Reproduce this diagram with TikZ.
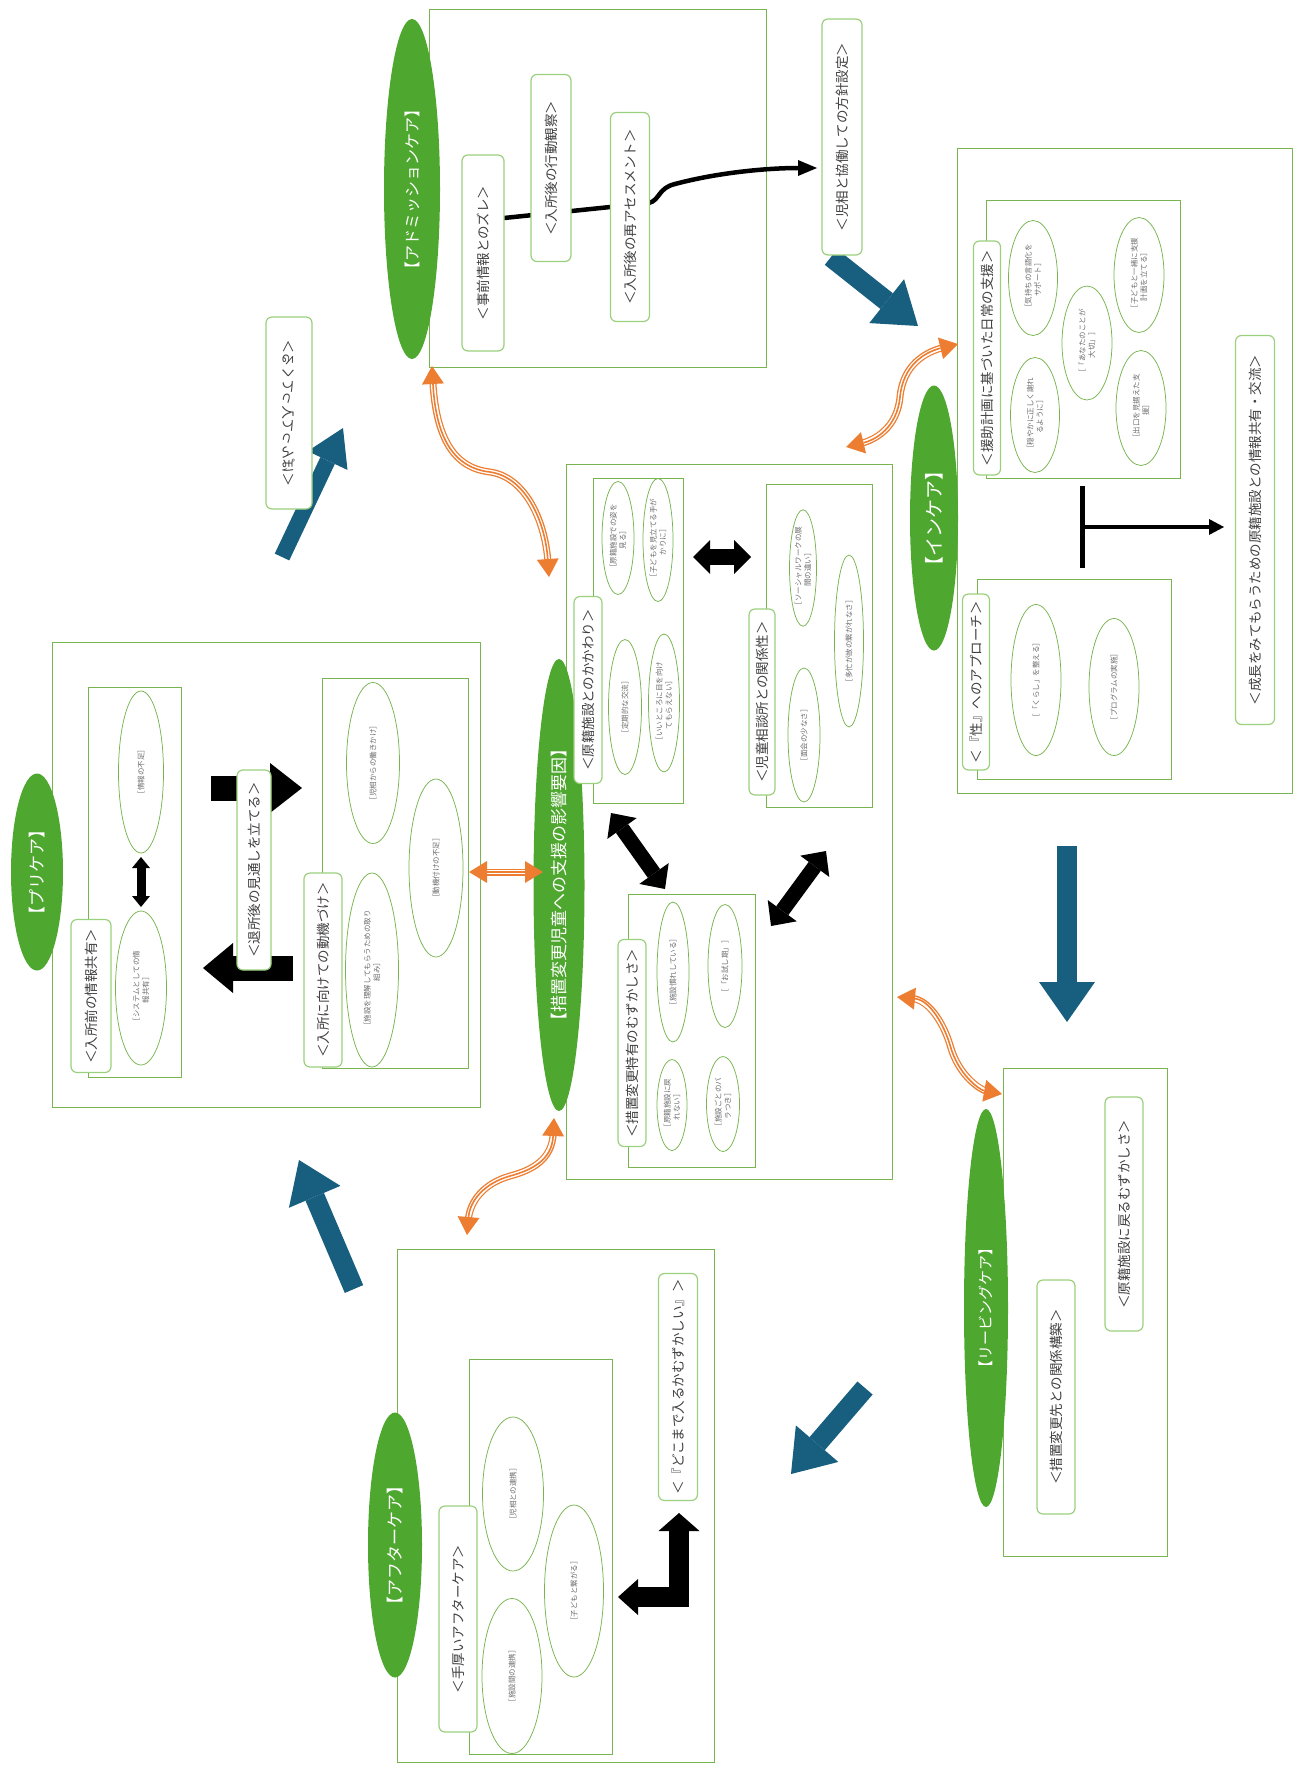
\documentclass[tikz,border=0pt]{standalone}
\usepackage{fontspec}
\setmainfont{Noto Sans CJK JP}
\usepackage{graphicx}
\usetikzlibrary{arrows.meta,shapes.geometric}

\definecolor{grn}{RGB}{78,167,46}
\definecolor{frm}{RGB}{120,180,80}
\definecolor{lblg}{RGB}{155,208,125}
\definecolor{blu}{RGB}{23,94,127}
\definecolor{orng}{RGB}{237,125,49}
\definecolor{txt}{RGB}{64,64,64}
\definecolor{stxt}{RGB}{110,110,110}

% label box: #1 name, #2 centre, #3 width, #4 height, #5 text
\newcommand\mktag[5]{\node[tag,minimum width=#4pt,minimum height=#3pt] (#1) at (#2) {#5};}
% small ellipse: #1 name, #2 centre, #3 width, #4 height, #5 text
\newcommand\mkitem[5]{\node[item,minimum width=#4pt,minimum height=#3pt] (#1) at (#2) {#5};}

\begin{document}
\begin{tikzpicture}[x=1pt,y=-1pt,
  frame/.style={draw=frm,line width=0.8pt,rectangle,inner sep=0pt,outer sep=0pt},
  phase/.style={ellipse,fill=grn,draw=none,rotate=90,text=white,inner sep=0pt,
    font=\fontsize{17}{20}\selectfont},
  item/.style={ellipse,draw=frm,line width=0.75pt,fill=white,rotate=90,text=stxt,
    inner sep=0pt,align=center,font=\fontsize{7.5}{9.5}\selectfont},
  tag/.style={draw=lblg,line width=1.2pt,rounded corners=6pt,fill=white,rotate=90,
    text=txt,inner sep=0pt,font=\fontsize{13.5}{16}\selectfont},
  flow/.style={draw=blu,line width=20pt,
    -{Triangle[length=40pt,width=56pt,line width=0pt]}},
  link/.style={draw=orng,line width=1.6pt,
    {Triangle[length=18pt,width=22pt,line width=0pt]}-{Triangle[length=18pt,width=22pt,line width=0pt]},
    preaction={draw=orng,line width=7pt,arrows=-,shorten <=15pt,shorten >=15pt},
    preaction={draw=white,line width=4.4pt,arrows=-,shorten <=14pt,shorten >=14pt}},
  fat/.style={draw=black,line width=#1},
]
\useasboundingbox (0,0) rectangle (1299,1780);

% ---- outer frames
\node[frame,minimum width=337pt,minimum height=358pt] (admbox) at (597.5,188) {};
\node[frame,minimum width=335pt,minimum height=645pt] (incbox) at (1124.5,470.5) {};
\node[frame,minimum width=326pt,minimum height=715pt] (ctrbox) at (729,821.5) {};
\node[frame,minimum width=428pt,minimum height=465pt] (prebox) at (266,874.5) {};
\node[frame,minimum width=317pt,minimum height=513pt] (aftbox) at (555.5,1505.5) {};
\node[frame,minimum width=164pt,minimum height=488pt] (levbox) at (1085,1312) {};

% ---- inner frames
\node[frame,minimum width=194pt,minimum height=278pt] (dailybox) at (1083,339) {};
\node[frame,minimum width=194pt,minimum height=200pt] (sexbox) at (1074,679) {};
\node[frame,minimum width=90pt,minimum height=325pt] (origbox) at (638,640.5) {};
\node[frame,minimum width=106pt,minimum height=323pt] (jsbox) at (819,645.5) {};
\node[frame,minimum width=127pt,minimum height=273pt] (chgbox) at (691.5,1030.5) {};
\node[frame,minimum width=93pt,minimum height=390pt] (infobox) at (134.5,882) {};
\node[frame,minimum width=146pt,minimum height=390pt] (motivbox) at (395,873) {};
\node[frame,minimum width=143pt,minimum height=395pt] (carebox) at (540.5,1556.5) {};

% ---- phase ellipses
\node[phase,minimum width=340pt,minimum height=56pt,font=\fontsize{16}{19}\selectfont] (admission) at (412,189) {【アドミッションケア】};
\node[phase,minimum width=265pt,minimum height=48pt,font=\fontsize{19}{22}\selectfont] (incare) at (934,518) {【インケア】};
\node[phase,minimum width=452pt,minimum height=51pt] (factors) at (559,885) {【措置変更児童への支援の影響要因】};
\node[phase,minimum width=197pt,minimum height=52pt] (precare) at (37,872) {【プリケア】};
\node[phase,minimum width=265pt,minimum height=54pt] (aftercare) at (395,1545) {【アフターケア】};
\node[phase,minimum width=398pt,minimum height=44pt,font=\fontsize{15}{18}\selectfont] (leaving) at (986,1308) {【リービングケア】};

% ---- small ellipses: in-care
\mkitem{i1}{1033,278}{49}{115}{［気持ちの言語化を\\サポート］}
\mkitem{i2}{1087,343}{50}{114}{［「あなたのことが\\大切」］}
\mkitem{i3}{1139,275}{50}{115}{［子どもと一緒に支援\\計画を立てる］}
\mkitem{i4}{1035,415}{49}{115}{［穏やかに正しく謝れ\\るように］}
\mkitem{i5}{1141,408}{50}{115}{［出口を見据えた支\\援］}
\mkitem{i6}{1036,680}{50}{151}{［「くらし」を整える］}
\mkitem{i7}{1114,687}{50}{137}{［プログラムの実施］}
% ---- small ellipses: factors
\begin{scope}[every node/.append style={font=\fontsize{7}{8.5}\selectfont}]
\mkitem{f1}{618,538}{32}{113}{［原籍施設での姿を\\見る］}
\mkitem{f2}{658,540}{30}{123}{［子どもを見立てる手が\\かりに］}
\mkitem{f3}{625,707}{33}{135}{［定期的な交流］}
\mkitem{f4}{664,703}{31}{138}{［いいところに目を向け\\てもらえない］}
\mkitem{f5}{803,568}{27}{111}{［ソーシャルワークの展\\開の違い］}
\mkitem{f6}{804,735}{32}{134}{［面会の少なさ］}
\mkitem{f7}{849,641}{29}{172}{［多忙が故の繋がれなさ］}
\mkitem{f8}{673,972}{32}{140}{［施設慣れしている］}
\mkitem{f9}{725,966}{34}{123}{［「お試し期」］}
\mkitem{f10}{672,1105}{30}{91}{［原籍施設に戻\\れない］}
\mkitem{f11}{723,1104}{33}{95}{［施設ごとのバ\\ラつき］}
\end{scope}
% ---- small ellipses: pre-care
\begin{scope}[every node/.append style={font=\fontsize{9}{11}\selectfont}]
\mkitem{p1}{141,772}{45}{162}{［情報の不足］}
\mkitem{p2}{141,988}{51}{154}{［システムとしての情\\報共有］}
\end{scope}
\mkitem{p3}{373,763}{53}{161}{［児相からの働きかけ］}
\mkitem{p4}{372,970}{53}{194}{［施設を理解してもらうための取り\\組み］}
\mkitem{p5}{436,868}{54}{178}{［動機付けの不足］}
% ---- small ellipses: after-care
\begin{scope}[every node/.append style={font=\fontsize{8}{10}\selectfont}]
\mkitem{c1}{513,1494}{61}{154}{［児相との連携］}
\mkitem{c2}{574,1591}{59}{172}{［子どもと繋がる］}
\mkitem{c3}{512,1676}{60}{155}{［施設間の連携］}
\end{scope}

% ---- connector end points
\coordinate (b1s) at (831,257);  \coordinate (b1e) at (918,326);
\coordinate (b2s) at (1067,846); \coordinate (b2e) at (1067,1022);
\coordinate (b3s) at (865,1388); \coordinate (b3e) at (791,1474);
\coordinate (b4s) at (354,1289); \coordinate (b4e) at (299,1160);
\coordinate (b5s) at (282,557);  \coordinate (b5e) at (343,428);

\coordinate (o1s) at (432,366);  \coordinate (o1e) at (549,577);
\coordinate (o2s) at (958,344);  \coordinate (o2e) at (846,447);
\coordinate (o3s) at (469,872);  \coordinate (o3e) at (543,872);
\coordinate (o4s) at (897,997);  \coordinate (o4e) at (1002,1094);
\coordinate (o5s) at (554,1118); \coordinate (o5e) at (467,1235);

\coordinate (k1s) at (693,557);  \coordinate (k1e) at (751,557);
\coordinate (k2s) at (611,813);  \coordinate (k2e) at (665,889);
\coordinate (k3s) at (826,851);  \coordinate (k3e) at (771,926);
\coordinate (k4s) at (141,857);  \coordinate (k4e) at (141,907);
\coordinate (r1s) at (211,788);  \coordinate (r1e) at (302,788);
\coordinate (r2s) at (293,968);  \coordinate (r2e) at (203,968);
\coordinate (e1s) at (679,1513); \coordinate (e1c) at (679,1597); \coordinate (e1e) at (618,1597);
\coordinate (t1) at (1082,486);  \coordinate (t2) at (1082,568);
\coordinate (tm) at (1082,527);  \coordinate (te) at (1224,527);
\coordinate (a0) at (504,218);   \coordinate (a1) at (817,168);

% ---- flow arrows between phases
\draw[flow] (b1s) -- (b1e);
\draw[flow] (b2s) -- (b2e);
\draw[flow] (b3s) -- (b3e);
\draw[flow] (b4s) -- (b4e);
\draw[flow,line width=16pt,-{Triangle[length=36pt,width=44pt,line width=0pt]}] (b5s) -- (b5e);

% ---- links to the central factors
\draw[link] (o1s) .. controls (436,440) and (455,468) .. (490,472)
            .. controls (525,477) and (545,520) .. (o1e);
\draw[link] (o2s) .. controls (925,352) and (903,365) .. (900,397)
            .. controls (897,428) and (875,440) .. (o2e);
\draw[link] (o3s) -- (o3e);
\draw[link] (o4s) .. controls (930,1000) and (944,1025) .. (950,1045)
            .. controls (958,1075) and (980,1090) .. (o4e);
\draw[link] (o5s) .. controls (552,1160) and (532,1170) .. (510,1176)
            .. controls (485,1183) and (470,1200) .. (o5e);

% ---- black arrows
\draw[fat=16pt,{Triangle[length=17pt,width=34pt,line width=0pt]}-{Triangle[length=17pt,width=34pt,line width=0pt]}] (k1s) -- (k1e);
\draw[fat=15pt,{Triangle[length=19pt,width=36pt,line width=0pt]}-{Triangle[length=19pt,width=36pt,line width=0pt]}] (k2s) -- (k2e);
\draw[fat=15pt,{Triangle[length=19pt,width=36pt,line width=0pt]}-{Triangle[length=19pt,width=36pt,line width=0pt]}] (k3s) -- (k3e);
\draw[fat=9pt,{Triangle[length=11pt,width=18pt,line width=0pt]}-{Triangle[length=11pt,width=18pt,line width=0pt]}] (k4s) -- (k4e);
\draw[fat=25pt,-{Triangle[length=32pt,width=50pt,line width=0pt]}] (r1s) -- (r1e);
\draw[fat=25pt,-{Triangle[length=30pt,width=50pt,line width=0pt]}] (r2s) -- (r2e);
\draw[fat=20pt,line join=miter,{Triangle[length=18pt,width=41pt,line width=0pt]}-{Triangle[length=20pt,width=36pt,line width=0pt]}] (e1s) -- (e1c) -- (e1e);
\draw[fat=5pt] (t1) -- (t2);
\draw[fat=4.5pt,-{Triangle[length=15pt,width=16pt,line width=0pt]}] (tm) -- (te);
\draw[fat=4.5pt,-{Triangle[length=19pt,width=16pt,line width=0pt]}]
  (a0) -- (649,203) .. controls (660,200) and (658,188) .. (675,184)
  .. controls (720,172) and (770,168) .. (a1);

% ---- labels
\mktag{jizen}{483,253}{42}{196}{＜事前情報とのズレ＞}
\mktag{koudou}{551,168}{40}{187}{＜入所後の行動観察＞}
\mktag{reassess}{630,217}{39}{209}{＜入所後の再アセスメント＞}
\mktag{houshin}{842,137}{40}{236}{＜児相と協働しての方針設定＞}
\mktag{pon}{289,413}{46}{192}{\scalebox{1}[-1]{＜ぽんって入ってくる＞}}
\mktag{enjo}{987,358}{27}{234}{＜援助計画に基づいた日常の支援＞}
\mktag{sei}{976,682}{27}{176}{＜『性』へのアプローチ＞}
\mktag{seichou}{1255,530}{39}{389}{＜成長をみてもらうための原籍施設との情報共有・交流＞}
\mktag{genseki}{588,690}{28}{187}{＜原籍施設とのかかわり＞}
\mktag{jisou}{762,702}{26}{186}{＜児童相談所との関係性＞}
\mktag{sochi}{632,1043}{28}{207}{＜措置変更特有のむずかしさ＞}
\mktag{jouhou}{91,996}{40}{153}{＜入所前の情報共有＞}
\mktag{douki}{323,970}{38}{194}{＜入所に向けての動機づけ＞}
\mktag{mitooshi}{254,870}{34}{200}{＜退所後の見通しを立てる＞}
\mktag{teatsui}{458,1619}{38}{226}{＜手厚いアフターケア＞}
\mktag{doko}{678,1387}{39}{227}{＜『どこまで入るかむずかしい』＞}
\mktag{modoru}{1124,1214}{38}{234}{＜原籍施設に戻るむずかしさ＞}
\mktag{kankei}{1056,1397}{38}{234}{＜措置変更先との関係構築＞}
\end{tikzpicture}
\end{document}
